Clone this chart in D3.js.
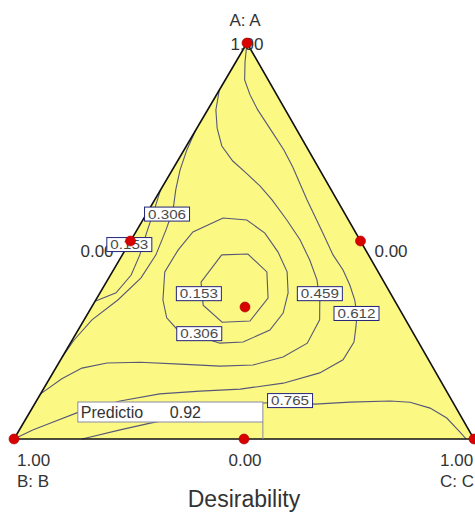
<!DOCTYPE html>
<html><head><meta charset="utf-8">
<script src="https://cdn.jsdelivr.net/npm/d3@7"></script>
<style>
html,body{margin:0;padding:0;background:#fff;overflow:hidden}
svg{display:block;font-family:"Liberation Sans",Arial,sans-serif}
</style></head><body>
<svg id="chart" width="475" height="515"></svg>
<script>
// Mixture components and the contour levels of the desirability surface
const components = ["A: A", "B: B", "C: C"];
const levels = [0.153, 0.306, 0.459, 0.612, 0.765];

// Contour traces, each point as [A, B] fractions (C = 1 - A - B)
const ring153 = [[0.465,0.319],[0.467,0.261],[0.422,0.242],[0.356,0.272],[0.298,0.340],[0.295,0.402],[0.338,0.422],[0.396,0.398],[0.465,0.319]];
const edge153 = [[0.629,0.371],[0.578,0.410],[0.523,0.453],[0.465,0.497],[0.414,0.541],[0.369,0.596],[0.348,0.652]];
const ring306 = [[0.558,0.270],[0.553,0.221],[0.520,0.198],[0.472,0.193],[0.422,0.198],[0.369,0.222],[0.318,0.258],[0.275,0.308],[0.245,0.381],[0.242,0.433],[0.278,0.509],[0.306,0.517],[0.351,0.503],[0.422,0.464],[0.477,0.408],[0.523,0.353],[0.558,0.270]];
const edge306 = [[0.780,0.220],[0.730,0.264],[0.679,0.304],[0.629,0.338],[0.578,0.369],[0.528,0.409],[0.465,0.462],[0.407,0.523],[0.351,0.601],[0.301,0.682],[0.250,0.746],[0.207,0.793]];
const line459 = [[0.881,0.119],[0.831,0.151],[0.785,0.171],[0.740,0.183],[0.702,0.178],[0.672,0.164],[0.639,0.150],[0.604,0.141],[0.553,0.134],[0.503,0.130],[0.452,0.134],[0.402,0.143],[0.351,0.162],[0.301,0.187],[0.242,0.243],[0.207,0.313],[0.187,0.388],[0.184,0.461],[0.189,0.546],[0.194,0.630],[0.192,0.703],[0.179,0.764],[0.152,0.821],[0.114,0.886]];
const line612 = [[1,0],[0.952,0.028],[0.907,0.051],[0.869,0.058],[0.831,0.060],[0.773,0.056],[0.730,0.053],[0.687,0.055],[0.604,0.065],[0.520,0.072],[0.465,0.077],[0.427,0.074],[0.389,0.078],[0.351,0.086],[0.313,0.100],[0.283,0.117],[0.245,0.140],[0.200,0.186],[0.167,0.253],[0.141,0.345],[0.126,0.446],[0.121,0.536],[0.114,0.627],[0.096,0.722],[0.066,0.831],[0.040,0.902],[0.023,0.948],[0,1]];
const line765 = [[0,0.852],[0.023,0.758],[0.040,0.684],[0.066,0.563],[0.091,0.414],[0.093,0.354],[0.088,0.302],[0.093,0.224],[0.096,0.135],[0.093,0.093],[0.078,0.057],[0.053,0.033],[0.018,0.022],[0,0.017]];

// Contour label placements ([A, B] of each label centre) and texts
const labelText = ["0.306","0.153","0.153","0.306","0.459","0.612","0.765"];
const labelA    = [0.568, 0.491, 0.367, 0.266, 0.367, 0.317, 0.097];
const labelB    = [0.387, 0.507, 0.417, 0.466, 0.154, 0.099, 0.352];

// Design points of the simplex-centroid layout, as [A, B]
const designA = [1, 0, 0, 0.5, 0.5, 0, 1/3];
const designB = [0, 1, 0, 0.5, 0, 0.5, 1/3];

// Prediction flag
const predA = 0, predB = 0.459;
const predName = "Predictio";
const predValue = 0.92;

// ---- ternary projection built on two linear scales ----
const xScale = d3.scaleLinear().domain([0, 1]).range([14, 474]);
const yScale = d3.scaleLinear().domain([0, 1]).range([439, 43]);
const APEX = 0.5065; // horizontal position of the A vertex along the base
function project(a, b) {
  const c = 1 - a - b;
  return [xScale(c + APEX * a), yScale(a)];
}

const svg = d3.select("#chart");
const fontFam = '"Liberation Sans", Arial, sans-serif';

// triangle fill
const verts = [project(1,0), project(0,1), project(0,0)];
svg.append("path")
  .attr("d", "M" + verts.map(p => p.join(",")).join("L") + "Z")
  .attr("fill", "#fbf884");

// contour lines
const contours = [
  {level: levels[0], pts: ring153}, {level: levels[0], pts: edge153},
  {level: levels[1], pts: ring306}, {level: levels[1], pts: edge306},
  {level: levels[2], pts: line459},
  {level: levels[3], pts: line612},
  {level: levels[4], pts: line765}
];
const lineGen = d3.line().x(d => project(d[0], d[1])[0]).y(d => project(d[0], d[1])[1]);
svg.append("g").selectAll("path").data(contours).join("path")
  .attr("d", d => lineGen(d.pts))
  .attr("fill", "none")
  .attr("stroke", "#585878")
  .attr("stroke-width", 1.1);

// triangle outline
svg.append("path")
  .attr("d", "M" + verts.map(p => p.join(",")).join("L") + "Z")
  .attr("fill", "none")
  .attr("stroke", "#111")
  .attr("stroke-width", 1.6);

// axis texts
function txt(x, y, s, size, anchor) {
  svg.append("text").attr("x", x).attr("y", y).text(s)
    .attr("font-size", size).attr("text-anchor", anchor || "start")
    .attr("fill", "#333").attr("font-family", fontFam);
}
const [ax, ay] = project(1, 0), [bx, by] = project(0, 1), [cx, cy] = project(0, 0);
txt(ax - 2, ay - 17, components[0], 17, "middle");
txt(ax, ay + 7, "1.00", 17, "middle");
txt(bx + 3, by + 27, "1.00", 17);
txt(bx + 3, by + 48, components[1], 17);
txt(cx - 34, cy + 27, "1.00", 17);
txt(cx - 34, cy + 48, components[2], 17);
const mBC = project(0, 0.5), mAB = project(0.5, 0.5), mAC = project(0.5, 0);
txt(mBC[0] + 1, mBC[1] + 27, "0.00", 17, "middle");
txt(mAB[0] - 50, mAB[1] + 16, "0.00", 17);
txt(mAC[0] + 14, mAC[1] + 16, "0.00", 17);
txt(244, 507, "Desirability", 23, "middle");

// contour labels
const lab = svg.append("g").selectAll("g").data(labelText.map((t, i) => ({t, a: labelA[i], b: labelB[i]})))
  .join("g").attr("transform", d => { const p = project(d.a, d.b); return `translate(${p[0]},${p[1]})`; });
lab.append("rect").attr("x", -22.5).attr("y", -7).attr("width", 45).attr("height", 14)
  .attr("fill", "#fff").attr("stroke", "#23237a").attr("stroke-width", 1);
lab.append("text").attr("x", 0).attr("y", 4.6).attr("text-anchor", "middle")
  .attr("font-size", 13).attr("textLength", 38).attr("lengthAdjust", "spacingAndGlyphs")
  .attr("fill", "#4a4a4a").attr("font-family", fontFam).text(d => d.t);

// design points
svg.append("g").selectAll("circle").data(designA.map((a, i) => [a, designB[i]])).join("circle")
  .attr("cx", d => project(d[0], d[1])[0]).attr("cy", d => project(d[0], d[1])[1])
  .attr("r", 5).attr("fill", "#d90000").attr("stroke", "#a00000").attr("stroke-width", 0.6);

// prediction flag
const pp = project(predA, predB);
const flag = svg.append("g");
flag.append("rect").attr("x", pp[0] - 185).attr("y", pp[1] - 37).attr("width", 185).attr("height", 20)
  .attr("fill", "#fff").attr("stroke", "#8a8aa8").attr("stroke-width", 1);
flag.append("line").attr("x1", pp[0]).attr("x2", pp[0]).attr("y1", pp[1] - 17).attr("y2", pp[1])
  .attr("stroke", "#8a8aa8").attr("stroke-width", 1);
flag.append("text").attr("x", pp[0] - 182).attr("y", pp[1] - 21.5).text(predName)
  .attr("font-size", 16).attr("fill", "#333").attr("font-family", fontFam);
flag.append("text").attr("x", pp[0] - 93).attr("y", pp[1] - 21.5).text(predValue.toFixed(2))
  .attr("font-size", 16).attr("fill", "#333").attr("font-family", fontFam);
</script>
</body></html>
